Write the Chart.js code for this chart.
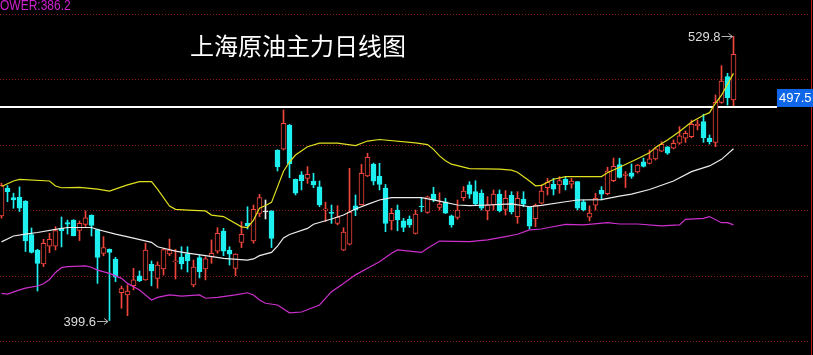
<!DOCTYPE html>
<html>
<head>
<meta charset="utf-8">
<title>上海原油主力日线图</title>
<script src="https://cdn.jsdelivr.net/npm/chart.js@4.4.1/dist/chart.umd.min.js"></script>
<style>
  html, body { margin: 0; padding: 0; background: #000; overflow: hidden; }
  #chartBox { width: 813px; height: 355px; }
</style>
</head>
<body>
<div id="chartBox"><canvas id="myChart" width="813" height="355"></canvas></div>
<script>
const chartTitle = "上海原油主力日线图";
const lowerLabel = "LOWER:386.2";
const lastPrice = 497.5;
const priceLevels = [390, 420, 450, 480, 510, 540];

// daily candles, oldest first
const opens = [
  447.5, 460.1, 455.9, 456.0, 454.3, 439.0, 431.9, 425.5, 433.7, 433.7,
  441.8, 444.5, 445.6, 440.9, 443.6, 447.9, 441.3, 430.3, 432.2, 427.7,
  412.3, 411.3, 415.5, 420.1, 418.2, 425.3, 418.9, 423.2, 430.1, 426.4,
  428.6, 430.1, 415.9, 428.4, 423.2, 428.8, 431.4, 440.6, 431.9, 423.5,
  435.4, 444.1, 436.0, 448.7, 449.3, 449.8, 477.7, 478.1, 489.1, 464.3,
  466.3, 464.7, 463.5, 460.8, 450.1, 449.2, 444.1, 431.8, 434.6, 452.1,
  452.6, 465.8, 471.3, 465.6, 460.3, 445.2, 450.2, 445.2, 446.1, 439.5,
  451.8, 449.1, 457.5, 451.4, 453.9, 447.5, 446.8, 455.9, 461.7, 458.6,
  457.9, 449.8, 452.5, 457.5, 450.5, 456.9, 447.2, 455.2, 451.6, 446.2,
  453.3, 460.4, 462.0, 461.7, 464.3, 462.0, 463.2, 453.9, 446.9, 452.4,
  459.2, 457.7, 463.7, 471.0, 466.0, 467.2, 467.6, 472.3, 471.6, 473.6,
  477.2, 479.2, 478.5, 480.8, 483.1, 483.8, 488.8, 490.7, 483.1, 481.2,
  499.5, 511.3, 500.6
];
const highs = [
  462.5, 461.4, 457.9, 460.8, 454.5, 442.0, 432.2, 436.8, 439.5, 442.6,
  447.0, 445.6, 445.8, 445.2, 449.8, 448.0, 441.5, 438.0, 432.4, 428.5,
  415.4, 415.9, 423.5, 422.3, 435.0, 426.9, 426.5, 432.7, 436.9, 432.2,
  433.4, 433.4, 427.3, 429.6, 428.8, 436.5, 442.1, 441.8, 433.4, 430.2,
  444.9, 451.7, 452.5, 457.4, 454.8, 449.9, 477.8, 496.0, 489.4, 464.4,
  467.8, 470.1, 467.0, 463.5, 453.8, 452.5, 452.2, 442.1, 469.3, 457.1,
  471.1, 476.2, 471.7, 471.6, 461.9, 451.0, 452.5, 446.4, 447.5, 450.2,
  455.6, 456.6, 460.6, 458.1, 455.6, 447.9, 454.8, 460.9, 463.2, 463.6,
  459.4, 456.3, 459.4, 459.4, 459.1, 458.6, 458.6, 458.6, 451.7, 453.0,
  461.7, 464.7, 464.7, 465.5, 465.2, 464.7, 463.3, 454.8, 452.1, 457.9,
  460.9, 469.8, 474.0, 473.9, 467.8, 471.3, 471.1, 474.0, 477.7, 478.8,
  481.5, 479.3, 482.3, 488.4, 486.4, 491.4, 491.4, 494.1, 484.6, 502.9,
  516.3, 512.8, 529.8
];
const lows = [
  446.5, 454.0, 451.0, 449.5, 431.2, 430.5, 413.1, 424.3, 430.7, 431.9,
  433.3, 439.2, 438.3, 436.2, 442.7, 438.3, 416.6, 429.2, 399.6, 417.4,
  405.2, 401.8, 413.6, 417.4, 418.0, 415.5, 414.4, 420.4, 429.3, 418.6,
  423.1, 421.8, 415.0, 419.1, 418.2, 425.8, 430.4, 429.3, 425.0, 420.1,
  433.0, 441.5, 435.0, 447.2, 446.1, 433.0, 468.1, 477.7, 465.0, 457.1,
  459.4, 462.4, 460.4, 451.7, 444.9, 444.1, 443.4, 431.6, 434.2, 447.6,
  452.5, 465.5, 461.7, 459.4, 440.3, 441.1, 440.7, 440.3, 442.3, 439.2,
  449.4, 448.7, 454.0, 450.2, 448.6, 442.3, 446.0, 454.5, 455.6, 452.5,
  450.2, 445.7, 450.2, 449.3, 447.9, 448.4, 444.1, 451.7, 441.4, 442.6,
  453.0, 457.1, 457.1, 457.9, 459.4, 460.2, 450.2, 449.8, 445.2, 450.2,
  454.8, 457.1, 463.2, 464.9, 460.5, 464.7, 467.2, 469.9, 471.3, 473.1,
  476.9, 475.7, 478.2, 480.3, 481.2, 483.3, 486.9, 481.2, 480.4, 479.2,
  499.1, 498.3, 498.0
];
const closes = [
  461.5, 458.5, 454.8, 451.1, 436.0, 430.8, 425.8, 435.0, 436.8, 440.8,
  440.7, 443.7, 438.5, 444.1, 446.6, 443.1, 428.5, 433.0, 430.8, 419.4,
  414.2, 413.1, 418.2, 417.8, 431.9, 422.3, 425.0, 432.1, 431.9, 426.9,
  425.5, 426.9, 424.1, 422.0, 427.8, 430.4, 439.5, 431.4, 430.0, 430.0,
  439.1, 443.0, 450.5, 455.9, 449.3, 437.2, 470.1, 489.9, 471.3, 457.9,
  463.5, 466.6, 461.7, 452.5, 450.7, 448.7, 447.0, 440.1, 449.3, 450.2,
  467.0, 474.3, 463.4, 461.9, 444.1, 448.7, 445.7, 442.2, 443.4, 448.3,
  451.6, 456.3, 454.8, 452.9, 448.8, 443.4, 450.2, 458.9, 457.5, 453.1,
  451.0, 452.5, 457.5, 449.8, 455.6, 449.4, 455.6, 452.9, 442.8, 452.4,
  458.9, 463.0, 459.7, 463.7, 461.8, 463.5, 451.0, 450.2, 448.8, 455.6,
  457.5, 468.0, 470.2, 465.1, 466.7, 465.6, 470.8, 470.2, 473.7, 478.2,
  480.3, 476.2, 480.8, 484.2, 485.3, 489.5, 489.5, 483.3, 481.5, 499.5,
  509.3, 501.7, 521.5
];

// Bollinger bands as [candle index, value]
const upperBand = [
  [0, 461.0], [2, 463.5], [3, 464.2], [8, 463.5], [9, 461.2], [10, 460.4],
  [13, 460.6], [16, 459.8], [18, 458.9], [21, 461.7], [23, 463.2], [25, 463.2],
  [26, 459.8], [28, 452.0], [29, 450.5], [31, 450.2], [34, 449.8], [35, 447.9],
  [37, 447.2], [40, 442.5], [41, 442.1], [42, 445.6], [43, 451.0], [44, 452.3],
  [45, 453.7], [46, 460.8], [47, 468.0], [48, 472.2], [49, 475.4], [51, 479.2],
  [53, 480.8], [56, 480.8], [59, 479.7], [61, 481.8], [63, 482.5], [69, 481.0],
  [71, 480.2], [72, 478.0], [73, 475.0], [74, 472.8], [75, 471.2], [78, 469.2],
  [83, 468.9], [85, 468.5], [86, 467.5], [88, 463.5], [89, 461.3], [90, 461.5],
  [92, 464.3], [94, 465.5], [100, 465.5], [101, 467.3], [103, 469.8], [106, 473.7],
  [108, 476.4], [109, 478.9], [111, 482.3], [113, 486.2], [115, 490.5], [117, 493.6],
  [118, 494.8], [119, 499.1], [120, 502.8], [121, 507.8], [122, 512.8]
];
const middleBand = [
  [0, 435.6], [2, 438.3], [4, 439.2], [6, 439.9], [9, 441.3], [11, 442.2],
  [15, 442.2], [16, 441.3], [19, 439.2], [22, 437.3], [25, 435.4], [26, 433.4],
  [29, 431.4], [31, 430.5], [34, 429.3], [37, 428.1], [41, 427.3], [42, 427.8],
  [43, 429.3], [45, 430.8], [46, 433.7], [47, 437.4], [48, 439.0], [51, 441.8],
  [52, 443.7], [55, 446.1], [57, 447.9], [59, 450.7], [61, 452.8], [63, 454.8],
  [65, 455.9], [70, 455.9], [73, 454.3], [76, 452.5], [78, 452.2], [81, 452.5],
  [85, 453.0], [88, 451.7], [90, 452.3], [94, 454.0], [96, 454.8], [100, 455.0],
  [103, 456.6], [105, 457.5], [108, 459.6], [112, 463.5], [115, 467.8], [118, 470.4],
  [120, 473.4], [122, 478.3]
];
const lowerBand = [
  [0, 412.0], [1, 411.7], [3, 413.6], [4, 414.4], [6, 415.4], [7, 416.4],
  [8, 418.4], [9, 421.6], [10, 423.8], [11, 424.3], [14, 424.6], [15, 424.0],
  [16, 422.7], [18, 421.2], [20, 418.9], [21, 416.6], [23, 413.6], [25, 409.0],
  [26, 410.2], [28, 411.3], [30, 410.8], [33, 411.3], [34, 409.8], [36, 410.2],
  [39, 411.3], [41, 412.3], [42, 411.3], [43, 409.0], [44, 407.5], [46, 406.7],
  [48, 403.1], [50, 403.5], [53, 406.7], [55, 412.8], [57, 416.6], [59, 420.5],
  [61, 423.5], [63, 426.5], [65, 430.4], [66, 431.9], [70, 430.8], [71, 432.7],
  [73, 436.0], [78, 435.7], [81, 436.5], [84, 438.0], [86, 439.1], [88, 441.1],
  [90, 441.5], [91, 442.1], [94, 443.6], [97, 443.4], [101, 444.4], [103, 443.8],
  [106, 443.8], [110, 442.9], [113, 443.4], [114, 445.9], [117, 446.4], [118, 447.2],
  [120, 444.4], [121, 444.4], [122, 443.4]
];

const UP_COLOR = "#f0463c";
const DOWN_COLOR = "#1ef0f0";
const FLAT_COLOR = "#f0f0f0";

class CandleTransformer {
  colorFor(i) {
    if (closes[i] > opens[i]) return UP_COLOR;
    if (closes[i] < opens[i]) return DOWN_COLOR;
    return FLAT_COLOR;
  }

  transform() {
    const wicks = opens.map((o, i) => ({ x: i, y: [lows[i], highs[i]] }));
    const bodies = opens.map((o, i) => ({ x: i, y: [o, closes[i]] }));
    const colors = opens.map((o, i) => this.colorFor(i));
    const fills = opens.map((o, i) => (closes[i] > o ? "#000000" : this.colorFor(i)));
    return { wicks, bodies, colors, fills };
  }
}

function drawArrowLabel(ctx, text, xEnd, y) {
  ctx.strokeStyle = "#b4b4b4";
  ctx.lineWidth = 1;
  ctx.beginPath();
  ctx.moveTo(xEnd - 11, y + 0.5);
  ctx.lineTo(xEnd, y + 0.5);
  ctx.moveTo(xEnd - 4, y - 2.5);
  ctx.lineTo(xEnd, y + 0.5);
  ctx.lineTo(xEnd - 4, y + 3.5);
  ctx.stroke();
  ctx.fillStyle = "#dcdcdc";
  ctx.font = '13px "Liberation Sans", Arial, sans-serif';
  ctx.textAlign = "right";
  ctx.textBaseline = "middle";
  ctx.fillText(text, xEnd - 12, y + 1);
}

const overlayPlugin = {
  id: "overlay",
  beforeDraw(chart) {
    const ctx = chart.ctx;
    ctx.save();
    ctx.fillStyle = "#000";
    ctx.fillRect(0, 0, chart.width, chart.height);
    ctx.restore();
  },
  beforeDatasetsDraw(chart) {
    const { ctx, scales } = chart;
    ctx.save();
    ctx.strokeStyle = "#8a1a1a";
    ctx.lineWidth = 1;
    ctx.setLineDash([1, 2]);
    priceLevels.forEach((v) => {
      const y = Math.round(scales.y.getPixelForValue(v)) + 0.5;
      ctx.beginPath();
      ctx.moveTo(0, y);
      ctx.lineTo(810, y);
      ctx.stroke();
    });
    ctx.setLineDash([]);

    // last price line
    const py = Math.round(scales.y.getPixelForValue(lastPrice));
    ctx.fillStyle = "#ffffff";
    ctx.fillRect(0, py - 1, 777, 2);
    ctx.restore();
  },
  afterDatasetsDraw(chart) {
    const { ctx, scales } = chart;
    ctx.save();

    // right border
    ctx.strokeStyle = "#c01818";
    ctx.lineWidth = 1;
    ctx.beginPath();
    ctx.moveTo(811.5, 0);
    ctx.lineTo(811.5, chart.height);
    ctx.stroke();

    // price box
    const py = Math.round(scales.y.getPixelForValue(lastPrice));
    ctx.fillStyle = "#0f66e8";
    ctx.fillRect(777, py - 18, 36, 18);
    ctx.fillStyle = "#ffffff";
    ctx.font = '13px "Liberation Sans", Arial, sans-serif';
    ctx.textAlign = "left";
    ctx.textBaseline = "middle";
    ctx.fillText(lastPrice.toFixed(1), 779, py - 8.5);

    // title
    ctx.font = '24px "Noto Sans CJK SC", sans-serif';
    ctx.fillStyle = "#ffffff";
    ctx.textBaseline = "middle";
    ctx.fillText(chartTitle, 190, 46);

    // band label, condensed and clipped at the left edge like the original
    ctx.save();
    ctx.font = '15px "Liberation Sans", sans-serif';
    ctx.fillStyle = "#d020d0";
    ctx.textBaseline = "top";
    ctx.scale(0.8, 1);
    const cut = ctx.measureText("L").width;
    ctx.fillText(lowerLabel, -cut, -2);
    ctx.restore();

    // extreme markers
    let hi = 0, lo = 0;
    highs.forEach((h, i) => { if (h > highs[hi]) hi = i; });
    lows.forEach((l, i) => { if (l < lows[lo]) lo = i; });
    drawArrowLabel(ctx, highs[hi].toFixed(1), scales.x.getPixelForValue(hi) - 1, Math.round(scales.y.getPixelForValue(highs[hi])));
    drawArrowLabel(ctx, lows[lo].toFixed(1), scales.x.getPixelForValue(lo) - 1.5, Math.round(scales.y.getPixelForValue(lows[lo])));

    ctx.restore();
  },
};

class ChartConfig {
  static lineSet(label, band, color, order) {
    return {
      type: "line",
      label: label,
      data: band.map(([i, v]) => ({ x: i, y: v })),
      borderColor: color,
      borderWidth: 1.2,
      pointRadius: 0,
      tension: 0,
      fill: false,
      order: order,
    };
  }

  static getConfig(candles) {
    return {
      type: "bar",
      data: {
        datasets: [
          ChartConfig.lineSet("UPPER", upperBand, "#e0e020", 0),
          ChartConfig.lineSet("MID", middleBand, "#ececec", 0),
          ChartConfig.lineSet("LOWER", lowerBand, "#cc30cc", 0),
          {
            label: "body",
            data: candles.bodies,
            backgroundColor: candles.fills,
            borderColor: candles.colors,
            borderWidth: 1,
            borderSkipped: false,
            barThickness: 5,
            minBarLength: 1,
            grouped: false,
            order: 1,
          },
          {
            label: "wick",
            data: candles.wicks,
            backgroundColor: candles.colors,
            borderWidth: 0,
            barThickness: 1,
            grouped: false,
            order: 2,
          },
        ],
      },
      options: {
        responsive: false,
        animation: false,
        devicePixelRatio: 1,
        events: [],
        layout: { padding: 0 },
        plugins: {
          legend: { display: false },
          tooltip: { enabled: false },
        },
        scales: {
          x: { type: "linear", display: false, offset: false, bounds: "ticks", min: -0.25, max: -0.25 + 813 / 6 },
          y: { type: "linear", display: false, min: 383.8, max: 546.4 },
        },
      },
      plugins: [overlayPlugin],
    };
  }
}

document.addEventListener("DOMContentLoaded", function () {
  const ctx = document.getElementById("myChart").getContext("2d");
  const candles = new CandleTransformer().transform();
  new Chart(ctx, ChartConfig.getConfig(candles));
});
</script>
</body>
</html>
